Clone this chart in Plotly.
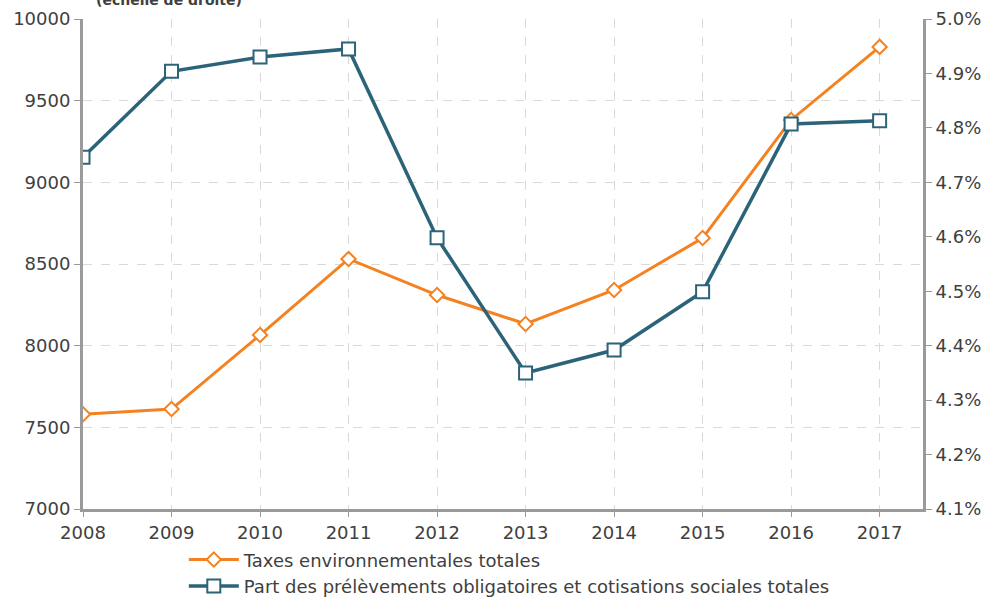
import plotly.graph_objects as go

years = [2008, 2009, 2010, 2011, 2012, 2013, 2014, 2015, 2016, 2017]
taxes_env = [7580, 7612, 8065, 8531, 8310, 8133, 8341, 8659, 9382, 9829]
part_po = [4.746, 4.904, 4.930, 4.945, 4.598, 4.350, 4.392, 4.499, 4.807, 4.813]
left_ticks = [7000, 7500, 8000, 8500, 9000, 9500, 10000]
right_ticks = [4.1, 4.2, 4.3, 4.4, 4.5, 4.6, 4.7, 4.8, 4.9, 5.0]

name_taxes = "Taxes environnementales totales"
name_part = "Part des prélèvements obligatoires et cotisations sociales totales"

orange = "#F58220"
teal = "#2B6479"
grid = "#D9D9D9"
axis_c = "#9A9A9A"
txt = "#404040"
font = "DejaVu Sans"

fig = go.Figure()
fig.add_trace(go.Scatter(
    x=years, y=taxes_env, name=name_taxes, mode="lines+markers",
    line=dict(color=orange, width=3),
    marker=dict(symbol="diamond", size=11, color="white", line=dict(color=orange, width=2)),
))
fig.add_trace(go.Scatter(
    x=years, y=part_po, name=name_part, mode="lines+markers", yaxis="y2",
    line=dict(color=teal, width=3.5),
    marker=dict(symbol="square", size=13, color="white", line=dict(color=teal, width=2)),
))

fig.update_layout(
    width=988, height=599,
    margin=dict(l=83, r=65, t=19, b=90, autoexpand=False),
    paper_bgcolor="white", plot_bgcolor="white",
    font=dict(family=font, size=18, color=txt),
    showlegend=True,
    legend=dict(x=0.12, y=-0.066, xanchor="left", yanchor="top",
                font=dict(family=font, size=18, color=txt),
                tracegroupgap=0, itemwidth=50, bgcolor="rgba(0,0,0,0)"),
    xaxis=dict(range=[2008, 2017.49], tickmode="array", tickvals=years,
               ticktext=[str(y) for y in years],
               showgrid=True, gridcolor=grid, griddash="dash", gridwidth=1,
               showline=True, linecolor=axis_c, linewidth=3,
               ticks="outside", ticklen=5, tickcolor=axis_c, tickwidth=1,
               zeroline=False, tickfont=dict(size=18, color=txt)),
    yaxis=dict(range=[7000, 10000], tickmode="array", tickvals=left_ticks,
               ticktext=[str(v) for v in left_ticks],
               showgrid=True, gridcolor=grid, griddash="dash", gridwidth=1,
               showline=True, linecolor=axis_c, linewidth=3,
               ticks="outside", ticklen=6, tickcolor=axis_c, tickwidth=1,
               zeroline=False, tickfont=dict(size=18, color=txt)),
    yaxis2=dict(range=[4.1, 5.0], overlaying="y", side="right",
                tickmode="array", tickvals=right_ticks,
                ticktext=[f"{v:.1f}%" for v in right_ticks],
                showgrid=False,
                showline=True, linecolor=axis_c, linewidth=3,
                ticks="outside", ticklen=6, tickcolor=axis_c, tickwidth=1,
                zeroline=False, tickfont=dict(size=18, color=txt)),
    annotations=[dict(text="<b>(échelle de droite)</b>", xref="paper", yref="paper",
                      x=0.013, y=1, xanchor="left", yanchor="bottom", yshift=9,
                      showarrow=False, font=dict(family=font, size=14, color=txt))],
)

fig.write_html("out.html")
